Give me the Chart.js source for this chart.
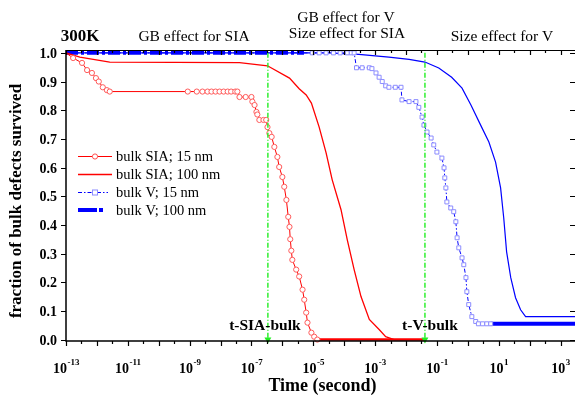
<!DOCTYPE html>
<html>
<head>
<meta charset="utf-8">
<script src="https://cdn.jsdelivr.net/npm/chart.js@4/dist/chart.umd.min.js"></script>
<style>
html, body { margin: 0; padding: 0; background: #fff; overflow: hidden; }
canvas { display: block; }
</style>
</head>
<body>
<canvas id="survChart" width="580" height="397"></canvas>
<script>
// bulk SIA, 15 nm grain
const sia15Time = [1e-13, 1.7e-13, 3.3e-13, 4.8e-13, 6.9e-13, 9.3e-13, 1.15e-12, 1.55e-12, 2.1e-12, 2.6e-12,
  8.7e-10, 1.7e-9, 2.6e-9, 3.8e-9, 5.1e-9, 6.9e-9, 9.3e-9, 1.26e-8, 1.7e-8, 2.2e-8, 3.0e-8, 3.5e-8,
  4.1e-8, 6.5e-8, 1.0e-7, 1.07e-7, 1.26e-7, 1.45e-7, 1.55e-7, 1.8e-7, 2.45e-7, 3.0e-7, 3.3e-7, 3.8e-7,
  4.5e-7, 5.5e-7, 6.9e-7, 7.9e-7, 1.0e-6, 1.15e-6, 1.35e-6, 1.55e-6, 1.7e-6, 1.8e-6, 1.95e-6, 2.1e-6,
  2.8e-6, 3.5e-6, 4.5e-6, 5.1e-6, 5.9e-6, 6.5e-6, 8.7e-6, 1.07e-5, 1.35e-5, 3.8e-2];
const sia15Frac = [1.0, 0.982, 0.965, 0.94, 0.93, 0.912, 0.9, 0.88, 0.87, 0.865,
  0.865, 0.865, 0.865, 0.865, 0.865, 0.865, 0.865, 0.865, 0.865, 0.865, 0.865, 0.865,
  0.846, 0.846, 0.846, 0.83, 0.818, 0.794, 0.785, 0.766, 0.766, 0.766, 0.741, 0.72,
  0.707, 0.672, 0.637, 0.602, 0.567, 0.533, 0.487, 0.428, 0.393, 0.35, 0.31, 0.278,
  0.244, 0.22, 0.174, 0.139, 0.094, 0.059, 0.024, 0.01, 0.0, 0.0];

// bulk SIA, 100 nm grain
const sia100Time = [1e-13, 2.8e-13, 2.6e-12, 4.1e-8, 3.3e-7, 1.7e-6, 3.5e-6, 5.9e-6, 8.7e-6, 1.55e-5, 2.6e-5,
  4.1e-5, 7.9e-5, 1.26e-4, 2.1e-4, 3.5e-4, 6.5e-4, 1.35e-3, 2.2e-3, 4.1e-3, 3.8e-2];
const sia100Frac = [1.0, 0.985, 0.968, 0.966, 0.955, 0.912, 0.875, 0.853, 0.825, 0.741, 0.651,
  0.557, 0.453, 0.348, 0.244, 0.15, 0.07, 0.035, 0.01, 0.0, 0.0];

// bulk V, 15 nm grain
const v15Time = [1e-13, 9.3e-6, 1.55e-5, 2.6e-5, 4.5e-5, 7.4e-5, 1.26e-4, 1.7e-4, 2.1e-4,
  2.5e-4, 3.8e-4, 6.5e-4, 7.9e-4, 1.07e-3, 1.35e-3, 1.7e-3, 2.2e-3, 2.8e-3, 4.5e-3, 6.9e-3,
  7.4e-3, 1.26e-2, 2.1e-2, 2.6e-2, 3.3e-2, 3.8e-2, 4.8e-2, 6.5e-2, 7.9e-2, 0.1, 0.145, 0.17,
  0.18, 0.195, 0.21, 0.28, 0.35, 0.41, 0.45, 0.51, 0.65, 0.74, 0.87, 0.93, 1.07, 1.35, 1.8,
  2.2, 3.0, 4.1, 5.5, 3162];
const v15Frac = [1.0, 1.0, 1.0, 1.0, 1.0, 1.0, 1.0, 1.0, 1.0,
  0.948, 0.948, 0.948, 0.945, 0.93, 0.915, 0.9, 0.885, 0.88, 0.88, 0.88,
  0.836, 0.83, 0.83, 0.81, 0.776, 0.748, 0.724, 0.703, 0.679, 0.654, 0.633, 0.599,
  0.564, 0.529, 0.48, 0.459, 0.446, 0.411, 0.355, 0.32, 0.285, 0.261, 0.216, 0.167, 0.122, 0.08, 0.063,
  0.055, 0.055, 0.055, 0.055, 0.055];

// bulk V, 100 nm grain (thick dashed part at 1.0)
const v100Time = [1e-13, 5e-6];
const v100Frac = [1.0, 1.0];

// bulk V, 100 nm, long-time curve
const vLongTime = [1e-13, 3.3e-5, 3.0e-4, 2.8e-3, 1.26e-2, 4.1e-2, 0.115, 0.30, 0.65, 1.26, 2.6,
  4.8, 7.9, 11.5, 14.5, 18, 24.5, 35, 51, 74, 3162];
const vLongFrac = [1.0, 1.0, 0.995, 0.985, 0.977, 0.968, 0.947, 0.915, 0.877, 0.818, 0.748,
  0.689, 0.619, 0.529, 0.425, 0.306, 0.216, 0.146, 0.104, 0.08, 0.08];

// characteristic times
const tSiaBulk = 3.4e-7;
const tVBulk = 4.1e-2;

const yTicks = [0, 0.1, 0.2, 0.3, 0.4, 0.5, 0.6, 0.7, 0.8, 0.9, 1.0];
const xDecades = [-13, -12, -11, -10, -9, -8, -7, -6, -5, -4, -3, -2, -1, 0, 1, 2, 3];

const serif = '"Liberation Serif", "Times New Roman", serif';
const red = '#ff0000', blue = '#0000ff', lightBlue = '#8c8cff', green = '#22ee22';

const pts = (ts, fs) => ts.map((t, i) => ({ x: t, y: fs[i] }));

function lastHidden(n, r) {
  const a = new Array(n).fill(r);
  a[0] = 0; a[n - 1] = 0;
  return a;
}

const decor = {
  id: 'decor',
  afterDraw(chart) {
    const ctx = chart.ctx, a = chart.chartArea;
    const xs = chart.scales.x, ys = chart.scales.y;
    ctx.save();
    ctx.strokeStyle = '#000';
    ctx.fillStyle = '#000';

    // frame
    ctx.lineWidth = 1.5;
    ctx.beginPath();
    ctx.moveTo(a.left, a.top); ctx.lineTo(a.left, a.bottom); ctx.lineTo(a.right, a.bottom);
    ctx.stroke();
    ctx.lineWidth = 1;
    ctx.beginPath();
    ctx.moveTo(a.left, a.top + 0.5); ctx.lineTo(a.right, a.top + 0.5); ctx.lineTo(a.right - 0.5, a.bottom);
    ctx.stroke();

    // x ticks (bottom outward, top inward)
    ctx.lineWidth = 1.2;
    xDecades.forEach(e => {
      const p = Math.round(xs.getPixelForValue(Number('1e' + e))) + 0.5;
      const h = Math.round(xs.getPixelForValue(Number('1e' + e) * 3.162)) + 0.5;
      ctx.beginPath();
      ctx.moveTo(p, a.bottom); ctx.lineTo(p, a.bottom + 5);
      ctx.moveTo(p, a.top); ctx.lineTo(p, a.top + 5);
      if (h < a.right) {
        ctx.moveTo(h, a.bottom); ctx.lineTo(h, a.bottom + 3);
        ctx.moveTo(h, a.top); ctx.lineTo(h, a.top + 3);
      }
      ctx.stroke();
    });

    // x labels 10^n for odd n
    ctx.textBaseline = 'alphabetic';
    xDecades.filter(e => Math.abs(e) % 2 === 1).forEach(e => {
      const p = xs.getPixelForValue(Number('1e' + e));
      ctx.font = 'bold 14px ' + serif;
      const w1 = ctx.measureText('10').width;
      ctx.font = 'bold 9px ' + serif;
      const w2 = ctx.measureText(String(e)).width;
      const x0 = p - (w1 + w2) / 2;
      ctx.font = 'bold 14px ' + serif;
      ctx.textAlign = 'left';
      ctx.fillText('10', x0, a.bottom + 32);
      ctx.font = 'bold 9px ' + serif;
      ctx.fillText(String(e), x0 + w1 + 0.5, a.bottom + 24);
    });

    // y ticks and labels
    ctx.lineWidth = 1.2;
    ctx.font = 'bold 14px ' + serif;
    ctx.textAlign = 'right';
    ctx.textBaseline = 'middle';
    yTicks.forEach(v => {
      const p = Math.round(ys.getPixelForValue(v)) + 0.5;
      ctx.beginPath();
      ctx.moveTo(a.left - 5, p); ctx.lineTo(a.left, p);
      ctx.moveTo(a.right - 6, p); ctx.lineTo(a.right, p);
      ctx.stroke();
      ctx.fillText(v.toFixed(1), a.left - 9, p + 1);
    });

    // axis titles
    ctx.textAlign = 'center';
    ctx.font = 'bold 18px ' + serif;
    ctx.fillText('Time (second)', (a.left + 575) / 2 + 2, 386);
    ctx.save();
    ctx.translate(17, 201);
    ctx.rotate(-Math.PI / 2);
    ctx.font = 'bold 17px ' + serif;
    ctx.fillText('fraction of bulk defects survived', 0, 0);
    ctx.restore();

    // top annotations
    ctx.font = 'bold 17px ' + serif;
    ctx.fillText('300K', 80, 37);
    ctx.font = '15.5px ' + serif;
    ctx.fillText('GB effect for SIA', 194, 37);
    ctx.fillText('GB effect for V', 346, 18);
    ctx.fillText('Size effect for SIA', 347, 34);
    ctx.fillText('Size effect for V', 502, 37);

    // characteristic time labels
    ctx.font = 'bold 15.5px ' + serif;
    ctx.fillText('t-SIA-bulk', xs.getPixelForValue(tSiaBulk) - 3, ys.getPixelForValue(0.048));
    ctx.fillText('t-V-bulk', xs.getPixelForValue(tVBulk) + 5, ys.getPixelForValue(0.048));

    // legend
    const rows = [156, 174, 192, 210];
    const labels = ['bulk SIA; 15 nm', 'bulk SIA; 100 nm', 'bulk V; 15 nm', 'bulk V; 100 nm'];
    ctx.font = '14.5px ' + serif;
    ctx.textAlign = 'left';
    labels.forEach((t, i) => ctx.fillText(t, 116, rows[i] + 1));

    ctx.lineWidth = 1;
    ctx.strokeStyle = red;
    ctx.beginPath(); ctx.moveTo(78, rows[0] + 0.5); ctx.lineTo(112, rows[0] + 0.5); ctx.stroke();
    ctx.fillStyle = '#fff';
    ctx.strokeStyle = '#ff5050';
    ctx.beginPath(); ctx.arc(95, rows[0] + 0.5, 2.6, 0, Math.PI * 2); ctx.fill(); ctx.stroke();
    ctx.strokeStyle = red;
    ctx.lineWidth = 1.3;
    ctx.beginPath(); ctx.moveTo(78, rows[1] + 0.5); ctx.lineTo(112, rows[1] + 0.5); ctx.stroke();

    ctx.strokeStyle = blue;
    ctx.lineWidth = 1;
    ctx.setLineDash([4, 2, 1.5, 2]);
    ctx.beginPath(); ctx.moveTo(78, rows[2] + 0.5); ctx.lineTo(108, rows[2] + 0.5); ctx.stroke();
    ctx.setLineDash([]);
    ctx.strokeStyle = lightBlue;
    ctx.fillRect(92, rows[2] - 2.5, 6, 6);
    ctx.strokeRect(92.5, rows[2] - 2, 5, 5);

    ctx.strokeStyle = blue;
    ctx.lineWidth = 4;
    ctx.beginPath(); ctx.moveTo(78, rows[3]); ctx.lineTo(97, rows[3]); ctx.stroke();
    ctx.fillStyle = blue;
    ctx.fillRect(99, rows[3] - 2, 4, 4);

    ctx.restore();
  }
};

const ctx = document.getElementById('survChart').getContext('2d');
const chart = new Chart(ctx, {
  type: 'line',
  data: {
    datasets: [
      {
        label: 't-SIA-bulk',
        data: pts([tSiaBulk, tSiaBulk], [1.0, 0.0]),
        borderColor: green,
        backgroundColor: green,
        borderWidth: 1.4,
        borderDash: [5, 2, 1, 2],
        pointStyle: 'triangle',
        pointRotation: 180,
        pointRadius: [0, 4],
        pointBorderWidth: 0,
        clip: 8
      },
      {
        label: 't-V-bulk',
        data: pts([tVBulk, tVBulk], [1.0, 0.0]),
        borderColor: green,
        backgroundColor: green,
        borderWidth: 1.4,
        borderDash: [5, 2, 1, 2],
        pointStyle: 'triangle',
        pointRotation: 180,
        pointRadius: [0, 4],
        pointBorderWidth: 0,
        clip: 8
      },
      {
        label: 'bulk SIA; 15 nm',
        data: pts(sia15Time, sia15Frac),
        borderColor: red,
        borderWidth: 1,
        pointStyle: 'circle',
        pointRadius: lastHidden(sia15Time.length, 2.6),
        pointBorderColor: '#ff5a5a',
        pointBackgroundColor: '#fff',
        pointBorderWidth: 1,
        segment: { borderWidth: c => (c.p0.parsed.y === 0 ? 2.5 : 1) },
        clip: 8
      },
      {
        label: 'bulk SIA; 100 nm',
        data: pts(sia100Time, sia100Frac),
        borderColor: red,
        borderWidth: 1.3,
        pointRadius: 0,
        clip: 8
      },
      {
        label: 'bulk V; 15 nm',
        data: pts(v15Time, v15Frac),
        borderColor: blue,
        borderWidth: 1,
        borderDash: [4, 2, 1.5, 2],
        pointStyle: 'rect',
        pointRadius: lastHidden(v15Time.length, 2.8),
        pointBorderColor: lightBlue,
        pointBackgroundColor: '#fff',
        pointBorderWidth: 1,
        segment: {
          borderWidth: c => (c.p0.parsed.x >= 5 ? 4 : 1),
          borderDash: c => (c.p0.parsed.x >= 5 ? [] : [4, 2, 1.5, 2])
        },
        clip: 8
      },
      {
        label: 'bulk V; 100 nm',
        data: pts(v100Time, v100Frac),
        borderColor: blue,
        borderWidth: 4,
        borderDash: [12, 3, 3, 3],
        pointRadius: 0,
        clip: 8
      },
      {
        label: 'bulk V; 100 nm (long time)',
        data: pts(vLongTime, vLongFrac),
        borderColor: blue,
        borderWidth: 1.2,
        pointRadius: 0,
        clip: 8
      }
    ]
  },
  options: {
    responsive: false,
    animation: false,
    layout: { padding: { left: 66, top: 50, right: 2.5, bottom: 56 } },
    plugins: {
      legend: { display: false },
      tooltip: { enabled: false }
    },
    scales: {
      x: { type: 'logarithmic', min: 1e-13, max: 3162, display: false },
      y: { type: 'linear', min: -0.005, max: 1.01, display: false }
    }
  },
  plugins: [decor]
});
</script>
</body>
</html>
